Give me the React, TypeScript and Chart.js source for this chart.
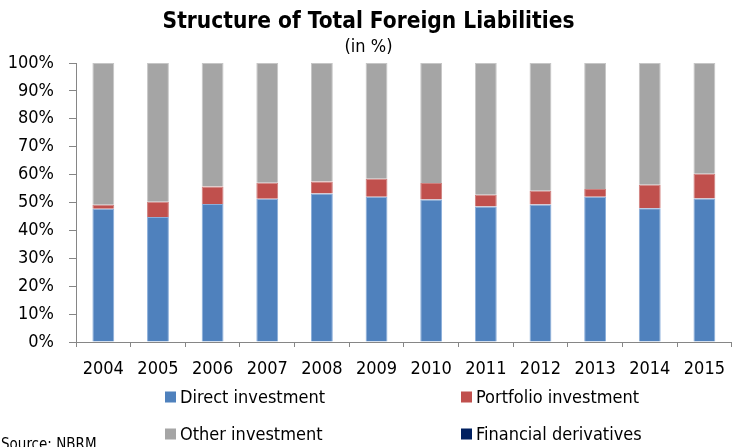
import React, { useEffect, useRef } from "react";
import { Chart, registerables } from "chart.js";

Chart.register(...registerables);

const years = ["2004", "2005", "2006", "2007", "2008", "2009", "2010", "2011", "2012", "2013", "2014", "2015"];
const directInvestment = [47.8, 44.8, 49.5, 51.3, 53.2, 52.1, 51.1, 48.6, 49.3, 52.1, 47.9, 51.4];
const portfolioInvestment = [1.4, 5.5, 6.2, 5.8, 4.3, 6.4, 5.9, 4.2, 4.9, 2.7, 8.5, 8.9];
const otherInvestment = [50.8, 49.7, 44.3, 42.9, 42.5, 41.5, 43.0, 47.2, 45.8, 45.2, 43.6, 39.7];
const financialDerivatives = [0, 0, 0, 0, 0, 0, 0, 0, 0, 0, 0, 0];
const yTicks = [0, 10, 20, 30, 40, 50, 60, 70, 80, 90, 100];

const TITLE = "Structure of Total Foreign Liabilities";
const SUBTITLE = "(in %)";
const SOURCE = "Source: NBRM";

const FONT = "'DejaVu Sans Condensed', 'DejaVu Sans', sans-serif";

const legendPlugin = {
  id: "gridLegend",
  afterDraw(chart: any) {
    const ctx = chart.ctx;
    const ds = chart.data.datasets;
    const cols = [165, 461];
    const rows = [397, 434];
    ctx.save();
    ctx.font = `18px ${FONT}`;
    ctx.textBaseline = "middle";
    ctx.textAlign = "left";
    ds.forEach((d: any, i: number) => {
      const x = cols[i % 2];
      const y = rows[Math.floor(i / 2)];
      ctx.fillStyle = d.legendColor || d.backgroundColor;
      ctx.fillRect(x, y - 5.5, 11, 11);
      ctx.fillStyle = "#000";
      ctx.fillText(d.label, x + 15, y + 1);
    });
    ctx.font = `15px ${FONT}`;
    ctx.textBaseline = "alphabetic";
    ctx.fillStyle = "#000";
    ctx.fillText(SOURCE, 1, 449);
    ctx.restore();
  },
};

export default function App() {
  const ref = useRef<HTMLCanvasElement>(null);
  useEffect(() => {
    if (!ref.current) return;
    const chart = new Chart(ref.current, {
      type: "bar",
      data: {
        labels: years,
        datasets: [
          { label: "Direct investment", data: directInvestment, backgroundColor: "#4F81BD", borderColor: "#8AAEDA", borderWidth: 1 },
          { label: "Portfolio investment", data: portfolioInvestment, backgroundColor: "#C0504D", borderColor: "#CF7F7D", borderWidth: 1 },
          { label: "Other investment", data: otherInvestment, backgroundColor: "#A5A5A5", borderColor: "#C6C6C6", borderWidth: 1 },
          { label: "Financial derivatives", data: financialDerivatives, backgroundColor: "#002060", borderWidth: 0 },
        ] as any,
      },
      options: {
        responsive: false,
        animation: false,
        devicePixelRatio: 1,
        layout: { padding: { top: 0, left: 0, right: 0, bottom: 0 } },
        datasets: { bar: { categoryPercentage: 0.8, barPercentage: 0.5 } },
        plugins: {
          legend: { display: false },
          tooltip: { enabled: false },
          title: {
            display: true,
            text: TITLE,
            color: "#000",
            font: { family: FONT, size: 22.5, weight: "bold", lineHeight: 1.2 },
            padding: { top: 9, bottom: 0 },
          },
          subtitle: {
            display: true,
            text: SUBTITLE,
            color: "#000",
            font: { family: FONT, size: 18, lineHeight: 1.2 },
            padding: { top: 1, bottom: 4.4 },
          },
        },
        scales: {
          x: {
            stacked: true,
            grid: { drawOnChartArea: false, drawTicks: true, tickLength: 5, color: "#868686", offset: true },
            border: { display: true, color: "#868686" },
            ticks: { color: "#000", font: { family: FONT, size: 18 }, padding: 12, maxRotation: 0 },
            afterFit: (s: any) => { s.height = 105; },
          },
          y: {
            stacked: true,
            min: 0,
            max: 100,
            afterBuildTicks: (s: any) => { s.ticks = yTicks.map((v) => ({ value: v })); },
            grid: { drawOnChartArea: false, drawTicks: true, tickLength: 7, color: "#868686" },
            border: { display: true, color: "#868686" },
            ticks: { color: "#000", font: { family: FONT, size: 18 }, padding: 15, callback: (v: any) => v + "%" },
            afterFit: (s: any) => { s.width = 76; },
          },
        },
      },
      plugins: [legendPlugin],
    });
    return () => chart.destroy();
  }, []);
  return (
    <div style={{ position: "fixed", left: 0, top: 0, width: 734, height: 447, overflow: "hidden", background: "#fff" }}>
      <canvas ref={ref} width={737} height={447} style={{ width: 737, height: 447, display: "block" }} />
    </div>
  );
}
